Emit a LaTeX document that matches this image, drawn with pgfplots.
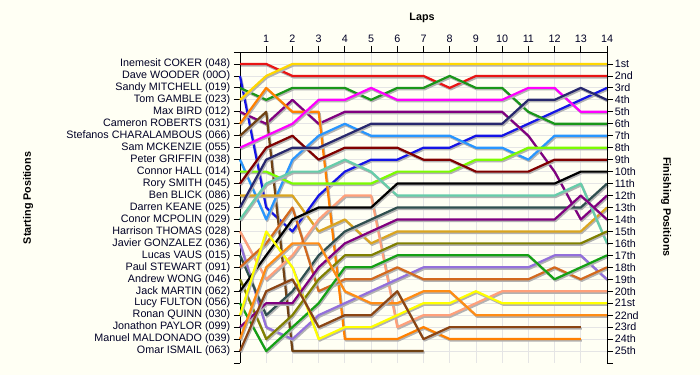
\documentclass[border=0pt]{standalone}
\usepackage{fontspec}
\setmainfont{Liberation Sans}
\usepackage{pgfplots}
\pgfplotsset{compat=1.18}
\definecolor{bg}{RGB}{255,255,244}
\definecolor{cA}{RGB}{232,20,20}
\definecolor{cB}{RGB}{20,20,230}
\definecolor{cC}{RGB}{25,150,25}
\definecolor{cD}{RGB}{255,215,0}
\definecolor{cE}{RGB}{128,0,128}
\definecolor{cF}{RGB}{255,128,0}
\definecolor{cG}{RGB}{112,66,20}
\definecolor{cH}{RGB}{255,0,255}
\definecolor{cI}{RGB}{40,150,255}
\definecolor{cJ}{RGB}{124,252,0}
\definecolor{cK}{RGB}{128,0,0}
\definecolor{cL}{RGB}{218,165,32}
\definecolor{cM}{RGB}{40,40,110}
\definecolor{cN}{RGB}{102,205,170}
\definecolor{cO}{RGB}{255,160,122}
\definecolor{cP}{RGB}{147,112,219}
\definecolor{cQ}{RGB}{47,79,79}
\definecolor{cR}{RGB}{210,105,30}
\definecolor{cS}{RGB}{128,128,0}
\definecolor{cT}{RGB}{0,0,0}
\definecolor{cU}{RGB}{20,160,20}
\definecolor{cV}{RGB}{255,255,0}
\definecolor{cW}{RGB}{128,0,128}
\definecolor{cX}{RGB}{255,140,20}
\definecolor{cY}{RGB}{139,69,19}
\pgfplotsset{lap/.style={line width=2.2bp, line join=round,
  preaction={draw=black!30, line width=2.2bp, transform canvas={shift={(1bp,-1.5bp)}}}}}
\begin{document}
\fontsize{10.8}{12}\selectfont
\begin{tikzpicture}
\fill[bg] (0,0) rectangle (700bp,375bp);
\begin{axis}[
  at={(240bp,12bp)}, anchor=south west,
  scale only axis, width=367bp, height=311bp,
  xmin=0, xmax=14, ymin=0, ymax=26, y dir=reverse,
  axis x line*=top, axis y line*=left,
  xtick={1,...,14}, ytick={1,...,25},
  yticklabels={Inemesit COKER (048),Dave WOODER (00O),Sandy MITCHELL (019),Tom GAMBLE (023),Max BIRD (012),Cameron ROBERTS (031),Stefanos CHARALAMBOUS (066),Sam MCKENZIE (055),Peter GRIFFIN (038),Connor HALL (014),Rory SMITH (045),Ben BLICK (086),Darren KEANE (025),Conor MCPOLIN (029),Harrison THOMAS (028),Javier GONZALEZ (036),Lucas VAUS (015),Paul STEWART (091),Andrew WONG (046),Jack MARTIN (062),Lucy FULTON (056),Ronan QUINN (030),Jonathon PAYLOR (099),Manuel MALDONADO (039),Omar ISMAIL (063)},
  extra y ticks={0,26}, extra y tick labels={}, extra y tick style={grid=none},
  grid=major, grid style={color=black!10, line width=0.8bp},
  tick align=outside, major tick length=6bp,
  tick style={black, line width=0.8bp},
  axis line style={black, line width=1bp},
  tick label style={font=\fontsize{10.8}{12}\selectfont, text=black!85!blue},
  /pgf/number format/assume math mode=true,
  clip=false,
]
\addplot[cA, lap] coordinates {(0,1)(1,1)(2,2)(3,2)(4,2)(5,2)(6,2)(7,2)(8,3)(9,2)(10,2)(11,2)(12,2)(13,2)(14,2)};
\addplot[cB, lap] coordinates {(0,2)(1,13)(2,15)(3,12)(4,10)(5,9)(6,9)(7,8)(8,8)(9,7)(10,7)(11,6)(12,5)(13,4)(14,3)};
\addplot[cC, lap] coordinates {(0,3)(1,4)(2,3)(3,3)(4,3)(5,4)(6,3)(7,3)(8,2)(9,3)(10,3)(11,5)(12,6)(13,6)(14,6)};
\addplot[cD, lap] coordinates {(0,4)(1,2)(2,1)(3,1)(4,1)(5,1)(6,1)(7,1)(8,1)(9,1)(10,1)(11,1)(12,1)(13,1)(14,1)};
\addplot[cE, lap] coordinates {(0,5)(1,6)(2,4)(3,6)(4,5)(5,5)(6,5)(7,5)(8,5)(9,5)(10,5)(11,7)(12,10)(13,14)(14,12)};
\addplot[cF, lap] coordinates {(0,6)(1,3)(2,5)(3,5)(4,24)(5,24)(6,24)(7,23)(8,24)(9,24)(10,24)(11,24)(12,24)(13,24)};
\addplot[cG, lap] coordinates {(0,7)(1,5)(2,25)(3,25)(4,25)(5,25)(6,25)(7,25)};
\addplot[cH, lap] coordinates {(0,8)(1,7)(2,6)(3,4)(4,4)(5,3)(6,4)(7,4)(8,4)(9,4)(10,4)(11,3)(12,3)(13,5)(14,5)};
\addplot[cI, lap] coordinates {(0,9)(1,14)(2,9)(3,7)(4,6)(5,7)(6,7)(7,7)(8,7)(9,8)(10,8)(11,9)(12,7)(13,7)(14,7)};
\addplot[cJ, lap] coordinates {(0,10)(1,10)(2,11)(3,11)(4,11)(5,11)(6,10)(7,10)(8,10)(9,9)(10,9)(11,8)(12,8)(13,8)(14,8)};
\addplot[cK, lap] coordinates {(0,11)(1,8)(2,7)(3,9)(4,8)(5,8)(6,8)(7,9)(8,9)(9,10)(10,10)(11,10)(12,9)(13,9)(14,9)};
\addplot[cL, lap] coordinates {(0,12)(1,12)(2,12)(3,15)(4,14)(5,16)(6,15)(7,15)(8,15)(9,15)(10,15)(11,15)(12,15)(13,15)(14,13)};
\addplot[cM, lap] coordinates {(0,13)(1,9)(2,8)(3,8)(4,7)(5,6)(6,6)(7,6)(8,6)(9,6)(10,6)(11,4)(12,4)(13,3)(14,4)};
\addplot[cN, lap] coordinates {(0,14)(1,11)(2,10)(3,10)(4,9)(5,10)(6,12)(7,12)(8,12)(9,12)(10,12)(11,12)(12,12)(13,11)(14,16)};
\addplot[cO, lap] coordinates {(0,15)(1,19)(2,17)(3,14)(4,12)(5,12)(6,23)(7,22)(8,22)(9,21)(10,20)(11,20)(12,20)(13,20)(14,20)};
\addplot[cP, lap] coordinates {(0,16)(1,23)(2,24)(3,22)(4,21)(5,20)(6,19)(7,18)(8,18)(9,18)(10,18)(11,18)(12,17)(13,17)(14,19)};
\addplot[cQ, lap] coordinates {(0,17)(1,22)(2,20)(3,17)(4,15)(5,14)(6,13)(7,13)(8,13)(9,13)(10,13)(11,13)(12,13)(13,13)(14,11)};
\addplot[cR, lap] coordinates {(0,18)(1,16)(2,13)(3,20)(4,19)(5,19)(6,18)(7,19)(8,19)(9,19)(10,19)(11,19)(12,18)(13,19)(14,18)};
\addplot[cS, lap] coordinates {(0,19)(1,24)(2,22)(3,19)(4,17)(5,17)(6,16)(7,16)(8,16)(9,16)(10,16)(11,16)(12,16)(13,16)(14,15)};
\addplot[cT, lap] coordinates {(0,20)(1,17)(2,14)(3,13)(4,13)(5,13)(6,11)(7,11)(8,11)(9,11)(10,11)(11,11)(12,11)(13,10)(14,10)};
\addplot[cU, lap] coordinates {(0,21)(1,25)(2,23)(3,21)(4,18)(5,18)(6,17)(7,17)(8,17)(9,17)(10,17)(11,17)(12,19)(13,18)(14,17)};
\addplot[cV, lap] coordinates {(0,22)(1,15)(2,18)(3,24)(4,23)(5,23)(6,22)(7,21)(8,21)(9,20)(10,21)(11,21)(12,21)(13,21)(14,21)};
\addplot[cW, lap] coordinates {(0,23)(1,21)(2,21)(3,18)(4,16)(5,15)(6,14)(7,14)(8,14)(9,14)(10,14)(11,14)(12,14)(13,12)(14,14)};
\addplot[cX, lap] coordinates {(0,24)(1,18)(2,16)(3,16)(4,20)(5,21)(6,21)(7,20)(8,20)(9,22)(10,22)(11,22)(12,22)(13,22)(14,22)};
\addplot[cY, lap] coordinates {(0,25)(1,20)(2,19)(3,23)(4,22)(5,22)(6,20)(7,24)(8,23)(9,23)(10,23)(11,23)(12,23)(13,23)};
\end{axis}
\begin{axis}[
  at={(240bp,12bp)}, anchor=south west,
  scale only axis, width=367bp, height=311bp,
  xmin=0, xmax=14, ymin=0, ymax=26, y dir=reverse,
  axis x line=none, axis y line*=right,
  ytick={1,...,25},
  yticklabels={1st,2nd,3rd,4th,5th,6th,7th,8th,9th,10th,11th,12th,13th,14th,15th,16th,17th,18th,19th,20th,21st,22nd,23rd,24th,25th},
  extra y ticks={26}, extra y tick labels={},
  tick align=outside, major tick length=6bp,
  tick style={black, line width=0.8bp},
  axis line style={black, line width=1bp},
  tick label style={font=\fontsize{10.8}{12}\selectfont, text=black!85!blue},
  yticklabel style={xshift=-2bp},
]
\end{axis}
\node[rotate=90, font=\bfseries\fontsize{10.8}{12}\selectfont] at (28bp,177bp) {Starting Positions};
\node[rotate=-90, font=\bfseries\fontsize{10.8}{12}\selectfont] at (666bp,168bp) {Finishing Positions};
\node[font=\bfseries\fontsize{10.8}{12}\selectfont] at (422bp,357bp) {Laps};
\end{tikzpicture}
\end{document}
